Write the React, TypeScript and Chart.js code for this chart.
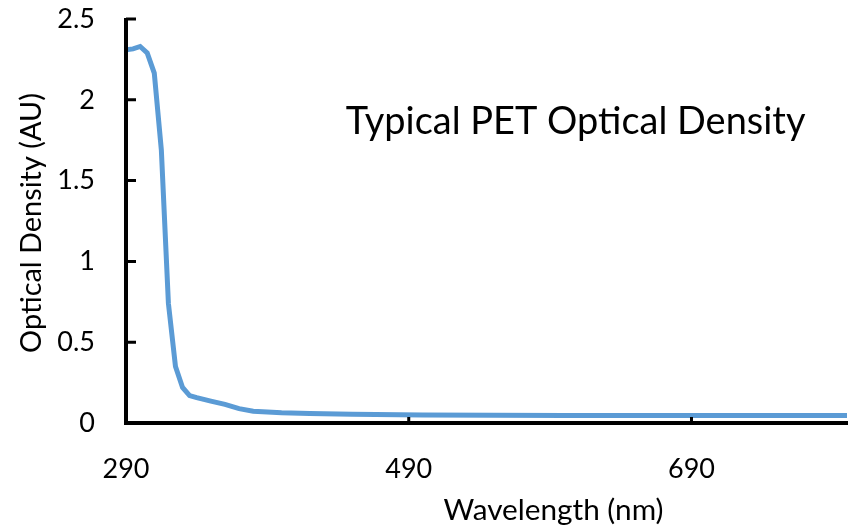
import React, { useEffect, useRef } from "react";
import { Chart, registerables } from "chart.js";

Chart.register(...registerables);

// Spectrum samples: wavelength (nm) and optical density (AU)
const wavelengths = [290, 295, 300, 305, 310, 315, 320, 325, 330, 335, 340, 345, 350, 360, 370, 380, 400, 420, 450, 500, 550, 600, 650, 700, 750, 800];
const opticalDensity = [2.31, 2.315, 2.33, 2.29, 2.165, 1.69, 0.74, 0.35, 0.22, 0.17, 0.157, 0.146, 0.135, 0.115, 0.089, 0.073, 0.063, 0.059, 0.054, 0.05, 0.048, 0.047, 0.047, 0.046, 0.046, 0.046];

const xTicks = [290, 490, 690];
const yTicks = [0, 0.5, 1, 1.5, 2, 2.5];

const chartTitle = "Typical PET Optical Density";
const xTitle = "Wavelength (nm)";
const yTitle = "Optical Density (AU)";

const FONT = "Lato, 'Open Sans', sans-serif";
const LINE_COLOR = "#5B9BD5";

// Pick a font size so that the text spans the given width
function fitFont(ctx: CanvasRenderingContext2D, text: string, width: number): string {
  ctx.font = `30px ${FONT}`;
  const w = ctx.measureText(text).width;
  return `${(30 * width) / w}px ${FONT}`;
}

// Axis lines, inward tick marks and the text labels
const framePlugin = {
  id: "frame",
  afterDatasetsDraw(chart: any) {
    const { ctx, chartArea: a, scales } = chart;
    const x = scales.x;
    const y = scales.y;
    ctx.save();
    ctx.strokeStyle = "#000";
    ctx.lineCap = "butt";

    ctx.lineWidth = 4;
    ctx.beginPath();
    ctx.moveTo(a.left, a.top - 1);
    ctx.lineTo(a.left, a.bottom + 2);
    ctx.moveTo(a.left - 2, a.bottom);
    ctx.lineTo(a.right + 1, a.bottom);
    ctx.stroke();

    ctx.lineWidth = 3;
    ctx.beginPath();
    for (const v of yTicks) {
      const py = y.getPixelForValue(v);
      ctx.moveTo(a.left, py);
      ctx.lineTo(a.left + 10, py);
    }
    for (const v of xTicks) {
      const px = x.getPixelForValue(v);
      ctx.moveTo(px, a.bottom);
      ctx.lineTo(px, a.bottom - 6);
    }
    ctx.stroke();

    ctx.fillStyle = "#000";
    ctx.textBaseline = "alphabetic";
    ctx.textAlign = "center";

    // Chart title inside the plot area
    ctx.font = fitFont(ctx, chartTitle, 460);
    ctx.fillText(chartTitle, x.getPixelForValue(608), 134);

    // X axis title
    ctx.font = fitFont(ctx, xTitle, 220);
    ctx.fillText(xTitle, a.left + (a.right - a.left) * 0.593, 520);

    // Y axis title (rotated)
    ctx.font = fitFont(ctx, yTitle, 260);
    ctx.translate(41, 223);
    ctx.rotate(-Math.PI / 2);
    ctx.fillText(yTitle, 0, 0);
    ctx.restore();
  },
};

export default function App() {
  const canvasRef = useRef<HTMLCanvasElement | null>(null);

  useEffect(() => {
    const canvas = canvasRef.current;
    if (!canvas) return;
    const chart = new Chart(canvas, {
      type: "line",
      data: {
        datasets: [
          {
            data: wavelengths.map((w, i) => ({ x: w, y: opticalDensity[i] })),
            borderColor: LINE_COLOR,
            borderWidth: 5,
            pointRadius: 0,
            tension: 0,
            fill: false,
          },
        ],
      },
      options: {
        animation: false,
        responsive: false,
        maintainAspectRatio: false,
        layout: { padding: { top: 19, right: 9, left: 0, bottom: 0 } },
        plugins: {
          legend: { display: false },
          tooltip: { enabled: false },
          title: { display: false },
        },
        scales: {
          x: {
            type: "linear",
            min: 290,
            max: 800,
            afterBuildTicks: (scale: any) => {
              scale.ticks = xTicks.map((v) => ({ value: v }));
            },
            afterFit: (scale: any) => {
              scale.height = 104;
              scale.paddingLeft = 0;
              scale.paddingRight = 0;
            },
            grid: { display: false, drawTicks: false, tickLength: 0 },
            border: { display: false },
            ticks: {
              autoSkip: false,
              maxRotation: 0,
              padding: 30,
              color: "#000",
              font: { family: FONT, size: 27 },
            },
          },
          y: {
            type: "linear",
            min: 0,
            max: 2.5,
            afterBuildTicks: (scale: any) => {
              scale.ticks = yTicks.map((v) => ({ value: v }));
            },
            afterFit: (scale: any) => {
              scale.width = 126;
              scale.paddingTop = 0;
              scale.paddingBottom = 0;
            },
            grid: { display: false, drawTicks: false, tickLength: 0 },
            border: { display: false },
            ticks: {
              padding: 31,
              color: "#000",
              font: { family: FONT, size: 27 },
              callback: (v: any) => String(v),
            },
          },
        },
      },
      plugins: [framePlugin],
    });
    return () => chart.destroy();
  }, []);

  return (
    <div style={{ position: "fixed", left: 0, top: 0, width: 856, height: 527, background: "#fff" }}>
      <canvas ref={canvasRef} width={856} height={527} />
    </div>
  );
}
